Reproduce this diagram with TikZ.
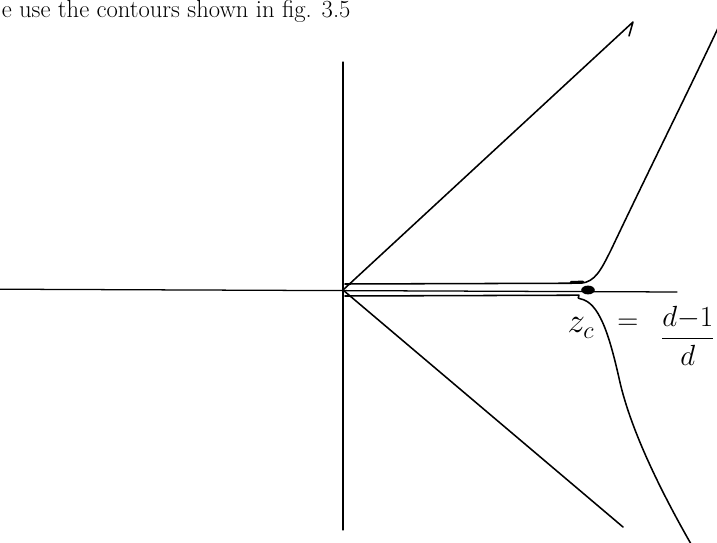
\documentclass[tikz,border=0pt]{standalone}
\begin{document}
\begin{tikzpicture}[line width=1.1pt, line cap=round, line join=round]
    % 0. Khung hình
    \useasboundingbox (-8.575,-6.325) rectangle (9.35,7.25);
    \clip (-8.575,-6.325) rectangle (9.35,7.25);

    % 1. Dòng chữ phía trên
    \node[anchor=base west, inner sep=0pt, font=\fontsize{17.5}{21}\selectfont] (caption) at (-8.55,6.8) {e use the contours shown in fig. 3.5};

    % 2. Hệ trục
    \draw[line width=0.9pt] (-8.6,0.02) -- (8.35,-0.05);
    \draw[line width=0.9pt] (0,5.7) -- (0,-6.0);

    % 3. Hai tia
    \draw (0,0) -- (7.25,6.7) -- (7.15,6.35);
    \draw (0,0) -- (7.0,-5.925);

    % 4. Đường lấy tích phân
    \draw (0.05,0.15) -- (5.95,0.17) .. controls (6.3,0.2) and (6.45,0.5) .. (6.7,1.0)
        .. controls (7.6,2.9) and (8.6,4.9) .. (9.4,6.6);
    \draw (0.05,-0.15) -- (5.9,-0.13) -- (5.88,-0.2) -- (5.93,-0.22)
        .. controls (6.4,-0.3) and (6.65,-1.1) .. (6.9,-2.2)
        .. controls (7.2,-3.6) and (8.1,-5.3) .. (8.7,-6.35);
    \draw[line width=2pt] (5.7,0.19) -- (6.0,0.2);

    % 5. Điểm z_c
    \fill (6.125,0) ellipse (0.17 and 0.11);
    \node[font=\fontsize{25}{30}\selectfont] (zc) at (5.95,-0.95) {$z_c$};
    \node[font=\fontsize{22}{26}\selectfont] (eq) at (7.12,-0.85) {$=$};
    \node[font=\fontsize{21}{25}\selectfont] (frac) at (8.62,-1.15) {$\displaystyle\frac{d{-}1}{d}$};
\end{tikzpicture}
\end{document}
